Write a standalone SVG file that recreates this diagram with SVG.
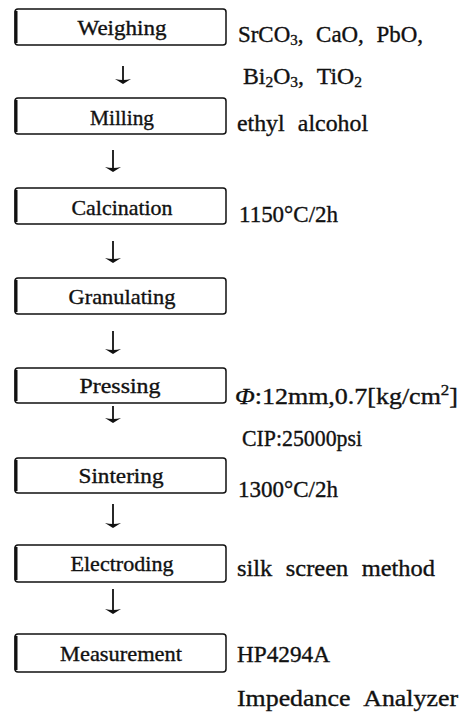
<svg xmlns="http://www.w3.org/2000/svg" width="462" height="712" viewBox="0 0 462 712">
<style>
.box{fill:#fff;stroke:#111;stroke-width:1.5}
.edge{stroke:#111;stroke-width:3;fill:none}
.lbl{font-family:"Liberation Serif","Times New Roman",serif;font-size:21.5px;fill:#111;stroke:#111;stroke-width:0.35;text-anchor:middle}
.note{font-family:"Liberation Serif","Times New Roman",serif;font-size:23px;fill:#111;stroke:#111;stroke-width:0.35}
.ws{word-spacing:7px}
.sub{font-size:15px}
.arr{stroke:#111;stroke-width:1.8;fill:none}
.head{fill:#111;stroke:none}
</style>
<rect width="462" height="712" fill="#fff"/>
<defs>
<path id="ah" class="head" d="M-8 -3Q0 -1 8 -3L0 2Z"/>
</defs>
<g id="connectors">
<path class="arr" d="M123 66V82"/><use href="#ah" x="123" y="82"/>
<path class="arr" d="M113 150V170"/><use href="#ah" x="113" y="170"/>
<path class="arr" d="M113 241V261"/><use href="#ah" x="113" y="261"/>
<path class="arr" d="M113 331V352"/><use href="#ah" x="113" y="352"/>
<path class="arr" d="M113 406V421"/><use href="#ah" x="113" y="421"/>
<path class="arr" d="M113 504V526"/><use href="#ah" x="113" y="526"/>
<path class="arr" d="M113 589V612"/><use href="#ah" x="113" y="612"/>
</g>
<g id="weighing"><rect class="box" x="15" y="9" width="211" height="36" rx="3"/><path class="edge" d="M16 11V43"/>
<text class="lbl" x="122" y="35" textLength="89" lengthAdjust="spacingAndGlyphs">Weighing</text></g>
<g id="milling"><rect class="box" x="15" y="98" width="211" height="36" rx="3"/><path class="edge" d="M16 100V132"/>
<text class="lbl" x="122" y="125" textLength="64" lengthAdjust="spacingAndGlyphs">Milling</text></g>
<g id="calcination"><rect class="box" x="15" y="188" width="211" height="36" rx="3"/><path class="edge" d="M16 190V222"/>
<text class="lbl" x="122" y="215" textLength="101" lengthAdjust="spacingAndGlyphs">Calcination</text></g>
<g id="granulating"><rect class="box" x="15" y="278" width="211" height="36" rx="3"/><path class="edge" d="M16 280V312"/>
<text class="lbl" x="122" y="304" textLength="107" lengthAdjust="spacingAndGlyphs">Granulating</text></g>
<g id="pressing"><rect class="box" x="15" y="368" width="211" height="35" rx="3"/><path class="edge" d="M16 370V401"/>
<text class="lbl" x="120" y="393" textLength="81" lengthAdjust="spacingAndGlyphs">Pressing</text></g>
<g id="sintering"><rect class="box" x="15" y="458" width="211" height="35" rx="3"/><path class="edge" d="M16 460V491"/>
<text class="lbl" x="121" y="483" textLength="85" lengthAdjust="spacingAndGlyphs">Sintering</text></g>
<g id="electroding"><rect class="box" x="15" y="545" width="211" height="37" rx="3"/><path class="edge" d="M16 547V580"/>
<text class="lbl" x="122" y="571" textLength="103" lengthAdjust="spacingAndGlyphs">Electroding</text></g>
<g id="measurement"><rect class="box" x="15" y="634" width="211" height="38" rx="3"/><path class="edge" d="M16 636V670"/>
<text class="lbl" x="121" y="661" textLength="122" lengthAdjust="spacingAndGlyphs">Measurement</text></g>
<g id="notes">
<text class="note ws" x="238" y="42" textLength="185" lengthAdjust="spacingAndGlyphs">SrCO<tspan class="sub" dy="3">3</tspan><tspan dy="-3">, CaO, PbO,</tspan></text>
<text class="note ws" x="243" y="84" textLength="119" lengthAdjust="spacingAndGlyphs">Bi<tspan class="sub" dy="3">2</tspan><tspan dy="-3">O</tspan><tspan class="sub" dy="3">3</tspan><tspan dy="-3">, TiO</tspan><tspan class="sub" dy="3">2</tspan></text>
<text class="note ws" x="237" y="131" textLength="131" lengthAdjust="spacingAndGlyphs">ethyl alcohol</text>
<text class="note" x="239" y="222" textLength="99" lengthAdjust="spacingAndGlyphs">1150°C/2h</text>
<text class="note" x="235" y="404" textLength="223" lengthAdjust="spacingAndGlyphs"><tspan font-style="italic">Φ</tspan>:12mm,0.7[kg/cm<tspan class="sub" dy="-9">2</tspan><tspan dy="9">]</tspan></text>
<text class="note" x="242" y="446" textLength="120" lengthAdjust="spacingAndGlyphs">CIP:25000psi</text>
<text class="note" x="238" y="497" textLength="100" lengthAdjust="spacingAndGlyphs">1300°C/2h</text>
<text class="note ws" x="237" y="576" textLength="198" lengthAdjust="spacingAndGlyphs">silk screen method</text>
<text class="note" x="237" y="662" textLength="93" lengthAdjust="spacingAndGlyphs">HP4294A</text>
<text class="note ws" x="237" y="706" textLength="221" lengthAdjust="spacingAndGlyphs">Impedance Analyzer</text>
</g>
</svg>
